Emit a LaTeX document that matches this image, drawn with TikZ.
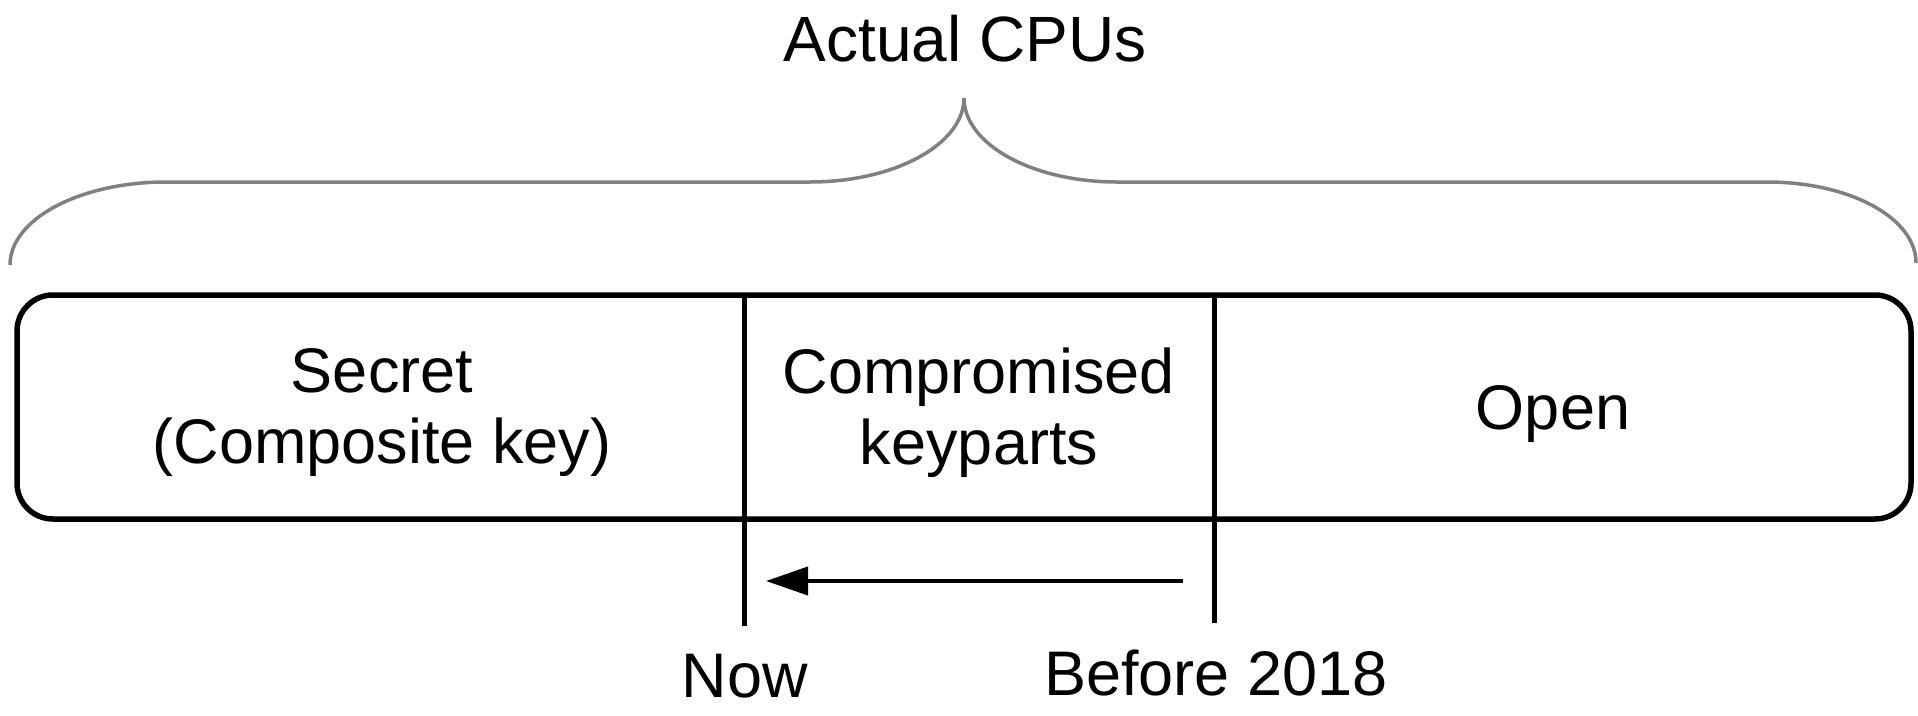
\documentclass[tikz,border=0pt]{standalone}
\usepackage{fontspec}
\setmainfont{Liberation Sans}
\usetikzlibrary{arrows.meta}
\definecolor{bracegray}{HTML}{808080}
\tikzset{
  lbl/.style={inner sep=0pt, font=\fontsize{63}{71}\selectfont, align=center},
  toplbl/.style={inner sep=0pt, font=\fontsize{64}{72}\selectfont},
  outline/.style={draw=black, line width=5.5pt, rounded corners=36pt},
  divider/.style={draw=black, line width=5pt},
  timearrow/.style={draw=black, line width=4pt, -{Triangle[length=42pt,width=28pt]}},
  bracestyle/.style={draw=bracegray, line width=3.5pt},
}
\begin{document}
\begin{tikzpicture}[x=1pt,y=-1pt]
\useasboundingbox (0,0) rectangle (1918,715);
% brace
\draw[bracestyle] (10,265) .. controls (10,219) and (80,182) .. (166,182)
  -- (810,182) .. controls (895,182) and (964,144) .. (964,98)
  .. controls (964,144) and (1032,182) .. (1117,182)
  -- (1767,182) .. controls (1850,182) and (1916,218) .. (1916,263);
\node[toplbl, anchor=base] (cpus) at (965,61) {Actual CPUs};
% box
\draw[outline] (17,295) rectangle (1911,519);
\coordinate (d1top) at (744,295);
\coordinate (d1bot) at (744,626);
\coordinate (d2top) at (1214,295);
\coordinate (d2bot) at (1214,623);
\draw[divider] (d1top) -- (d1bot);
\draw[divider] (d2top) -- (d2bot);
\node[lbl] (secret) at (382,413) {Secret\\(Composite key)};
\node[lbl] (comp) at (979,413) {Compromised\\keyparts};
\node[lbl, anchor=base] (open) at (1553,429) {Open};
% arrow
\coordinate (arrS) at (1183,581);
\coordinate (arrE) at (766,581);
\draw[timearrow] (arrS) -- (arrE);
\node[lbl, anchor=base] (now) at (745,697) {Now};
\node[lbl, anchor=base] (before) at (1216,695) {Before 2018};
\end{tikzpicture}
\end{document}
